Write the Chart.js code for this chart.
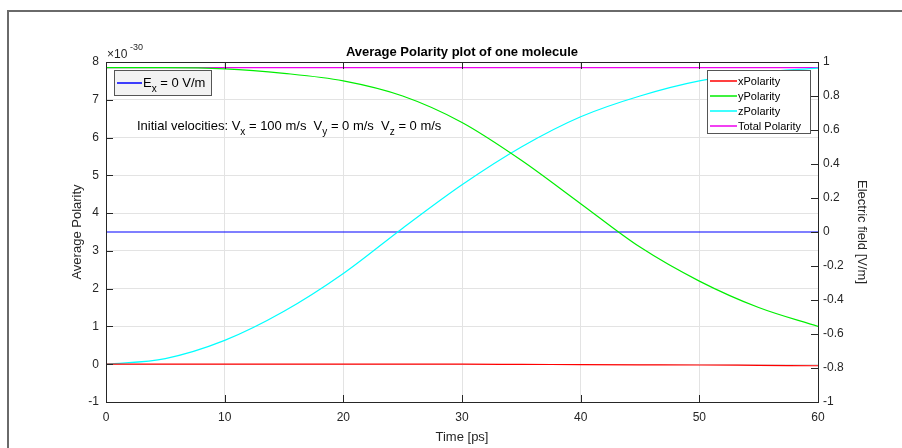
<!DOCTYPE html>
<html lang="en">
<head>
    <meta charset="UTF-8">
    <title>Average Polarity plot of one molecule</title>
    <script src="https://cdn.jsdelivr.net/npm/chart.js"></script>
    <style>
        body { margin: 0; background: #fff; }
        #wrap { width: 902px; height: 448px; }
    </style>
</head>
<body>
    <div id="wrap"><canvas id="polarityChart" width="902" height="448"></canvas></div>
    <script>
        // time axis samples [ps]
        const timePs = [0, 5, 10, 15, 20, 25, 30, 35, 40, 45, 50, 55, 60];
        // polarity values (x 1e-30)
        const xPolarity = [0, 0, 0, 0, 0, 0, 0, -0.005, -0.01, -0.015, -0.02, -0.03, -0.04];
        const yPolarity = [7.85, 7.85, 7.82, 7.7, 7.5, 7.1, 6.4, 5.4, 4.25, 3.1, 2.2, 1.5, 1.0];
        const zPolarity = [0, 0.15, 0.63, 1.4, 2.4, 3.6, 4.75, 5.75, 6.55, 7.1, 7.5, 7.72, 7.84];
        const totalPolarity = [7.85, 7.85, 7.85, 7.85, 7.85, 7.85, 7.85, 7.85, 7.85, 7.85, 7.85, 7.85, 7.85];
        // electric field [V/m] on the right axis
        const electricField = [0, 0, 0, 0, 0, 0, 0, 0, 0, 0, 0, 0, 0];

        const xTicks = [0, 10, 20, 30, 40, 50, 60];
        const leftTicks = [-1, 0, 1, 2, 3, 4, 5, 6, 7, 8];
        const rightTicks = [-1, -0.8, -0.6, -0.4, -0.2, 0, 0.2, 0.4, 0.6, 0.8, 1];

        const textColor = '#262626';
        const fontFamily = "'Liberation Sans', Arial, Helvetica, sans-serif";

        const pts = vals => vals.map((v, i) => ({ x: timePs[i], y: v }));

        function drawSubText(ctx, parts, x, y, size) {
            // parts: [text, sub] pairs
            let cx = x;
            parts.forEach(p => {
                ctx.font = size + 'px ' + fontFamily;
                ctx.fillText(p[0], cx, y);
                cx += ctx.measureText(p[0]).width;
                if (p[1]) {
                    ctx.font = Math.round(size * 0.75) + 'px ' + fontFamily;
                    ctx.fillText(p[1], cx, y + size * 0.35);
                    cx += ctx.measureText(p[1]).width;
                }
            });
        }

        const decorPlugin = {
            id: 'decor',
            beforeDraw(chart) {
                const ctx = chart.ctx;
                ctx.save();
                ctx.fillStyle = '#fff';
                ctx.fillRect(0, 0, chart.width, chart.height);
                ctx.strokeStyle = '#6a6a6a';
                ctx.lineWidth = 2;
                ctx.beginPath();
                ctx.moveTo(8, 448);
                ctx.lineTo(8, 11);
                ctx.lineTo(902, 11);
                ctx.stroke();
                ctx.restore();
            },
            afterDraw(chart) {
                const ctx = chart.ctx;
                const a = chart.chartArea;
                const sx = chart.scales.x, sl = chart.scales.y, sr = chart.scales.y1;
                ctx.save();
                // axes box
                ctx.strokeStyle = textColor;
                ctx.lineWidth = 1;
                ctx.strokeRect(a.left + 0.5, a.top + 0.5, a.right - a.left, a.bottom - a.top);
                // inward ticks
                ctx.beginPath();
                xTicks.forEach(t => {
                    const px = Math.round(sx.getPixelForValue(t)) + 0.5;
                    ctx.moveTo(px, a.bottom); ctx.lineTo(px, a.bottom - 7);
                    ctx.moveTo(px, a.top); ctx.lineTo(px, a.top + 7);
                });
                leftTicks.forEach(t => {
                    const py = Math.round(sl.getPixelForValue(t)) + 0.5;
                    ctx.moveTo(a.left, py); ctx.lineTo(a.left + 7, py);
                });
                rightTicks.forEach(t => {
                    const py = Math.round(sr.getPixelForValue(t)) + 0.5;
                    ctx.moveTo(a.right, py); ctx.lineTo(a.right - 7, py);
                });
                ctx.stroke();

                // title
                ctx.fillStyle = '#000';
                ctx.textAlign = 'center';
                ctx.textBaseline = 'alphabetic';
                ctx.font = 'bold 13px ' + fontFamily;
                ctx.fillText('Average Polarity plot of one molecule', (a.left + a.right) / 2, 56);

                // exponent label
                ctx.fillStyle = textColor;
                ctx.textAlign = 'left';
                ctx.font = '12px ' + fontFamily;
                ctx.fillText('\u00d710', 107, 58);
                ctx.font = '9px ' + fontFamily;
                ctx.fillText('-30', 130, 50);

                // annotation
                ctx.fillStyle = '#000';
                drawSubText(ctx, [
                    ['Initial velocities: V', 'x'],
                    [' = 100 m/s  V', 'y'],
                    [' = 0 m/s  V', 'z'],
                    [' = 0 m/s', null]
                ], 137, 130, 13);

                // left legend
                ctx.fillStyle = '#f2f2f2';
                ctx.fillRect(114.5, 70.5, 97, 25);
                ctx.strokeStyle = '#555';
                ctx.strokeRect(114.5, 70.5, 97, 25);
                ctx.strokeStyle = '#0000ff';
                ctx.lineWidth = 1.5;
                ctx.beginPath(); ctx.moveTo(117, 83); ctx.lineTo(142, 83); ctx.stroke();
                ctx.lineWidth = 1;
                ctx.fillStyle = '#000';
                drawSubText(ctx, [['E', 'x'], [' = 0 V/m', null]], 143, 87, 13);

                // right legend
                const entries = chart.data.datasets.slice(0, 4);
                ctx.fillStyle = '#fff';
                ctx.fillRect(707.5, 70.5, 103, 63);
                ctx.strokeStyle = '#555';
                ctx.strokeRect(707.5, 70.5, 103, 63);
                ctx.font = '11px ' + fontFamily;
                ctx.lineWidth = 1.5;
                entries.forEach((ds, i) => {
                    const y = Math.round(80.5 + i * 15.2);
                    ctx.strokeStyle = ds.borderColor;
                    ctx.beginPath(); ctx.moveTo(710, y); ctx.lineTo(737, y); ctx.stroke();
                    ctx.fillStyle = '#000';
                    ctx.fillText(ds.label, 738, y + 4);
                });
                ctx.restore();
            }
        };

        const lineDs = (label, data, color, axis) => ({
            label: label,
            data: pts(data),
            borderColor: color,
            backgroundColor: color,
            borderWidth: 1.2,
            pointRadius: 0,
            cubicInterpolationMode: 'monotone',
            yAxisID: axis
        });

        const ctx = document.getElementById('polarityChart').getContext('2d');
        const polarityChart = new Chart(ctx, {
            type: 'line',
            data: {
                datasets: [
                    lineDs('xPolarity', xPolarity, '#ff0000', 'y'),
                    lineDs('yPolarity', yPolarity, '#00ee00', 'y'),
                    lineDs('zPolarity', zPolarity, '#00ffff', 'y'),
                    lineDs('Total Polarity', totalPolarity, '#ee00ee', 'y'),
                    lineDs('E_x = 0 V/m', electricField, '#0000ff', 'y1')
                ]
            },
            options: {
                responsive: false,
                animation: false,
                layout: { padding: { top: 62, left: 0, right: 0, bottom: 0 } },
                plugins: {
                    legend: { display: false },
                    tooltip: { enabled: false }
                },
                scales: {
                    x: {
                        type: 'linear',
                        min: 0, max: 60,
                        afterBuildTicks: s => { s.ticks = xTicks.map(v => ({ value: v })); },
                        afterFit: s => { s.height = 46; },
                        grid: { color: '#e3e3e3', drawTicks: false },
                        border: { display: false },
                        ticks: { color: textColor, padding: 8, font: { family: fontFamily, size: 12 } },
                        title: { display: true, text: 'Time [ps]', color: textColor, padding: { top: 0, bottom: 3 }, font: { family: fontFamily, size: 13 } }
                    },
                    y: {
                        position: 'left',
                        min: -1, max: 8,
                        afterBuildTicks: s => { s.ticks = leftTicks.map(v => ({ value: v })); },
                        afterFit: s => { s.width = 106; },
                        grid: { color: '#e3e3e3', drawTicks: false },
                        border: { display: false },
                        ticks: { color: textColor, padding: 7, font: { family: fontFamily, size: 12 } },
                        title: { display: true, text: 'Average Polarity', color: textColor, padding: { top: 70, bottom: 0 }, font: { family: fontFamily, size: 13 } }
                    },
                    y1: {
                        position: 'right',
                        min: -1, max: 1,
                        afterBuildTicks: s => { s.ticks = rightTicks.map(v => ({ value: v })); },
                        afterFit: s => { s.width = 84; },
                        grid: { drawOnChartArea: false, drawTicks: false },
                        border: { display: false },
                        ticks: { color: textColor, padding: 5, font: { family: fontFamily, size: 12 },
                            callback: v => Math.abs(v) < 1e-9 ? '0' : String(Math.round(v * 10) / 10) },
                        title: { display: true, text: 'Electric field [V/m]', color: textColor, padding: { top: 33, bottom: 0 }, font: { family: fontFamily, size: 13 } }
                    }
                }
            },
            plugins: [decorPlugin]
        });
    </script>
</body>
</html>
